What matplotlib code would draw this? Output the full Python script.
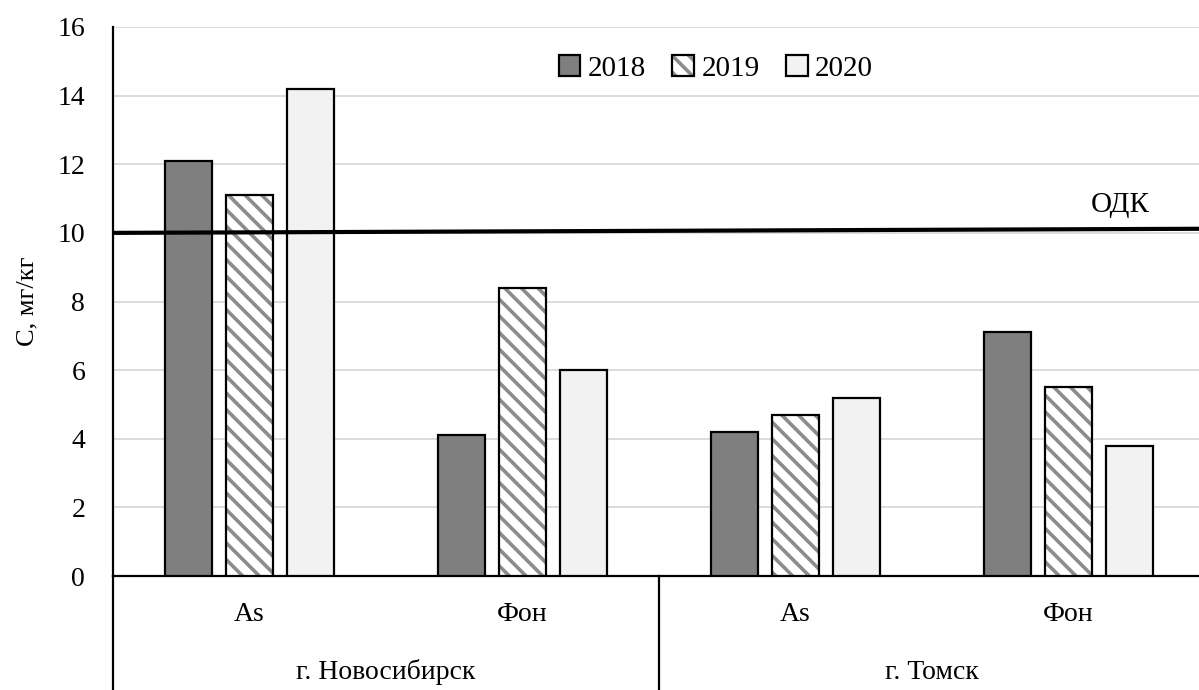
import matplotlib
matplotlib.use('Agg')
import matplotlib.pyplot as plt
import matplotlib.transforms as mtransforms
from matplotlib.patches import Patch
from matplotlib.legend_handler import HandlerTuple
import numpy as np

plt.rcParams['font.family'] = ['Liberation Serif', 'DejaVu Serif']
plt.rcParams['hatch.linewidth'] = 2.6

# data
categories = ['As', 'Фон', 'As', 'Фон']
cities = ['г. Новосибирск', 'г. Томск']
years = ['2018', '2019', '2020']
val_2018 = [12.1, 4.1, 4.2, 7.1]
val_2019 = [11.1, 8.4, 4.7, 5.5]
val_2020 = [14.2, 6.0, 5.2, 3.8]
odk_x = [-0.5, 3.5]
odk_y = [10.0, 10.12]
y_ticks = [0, 2, 4, 6, 8, 10, 12, 14, 16]

fig = plt.figure(figsize=(11.99, 6.9), dpi=100)
ax = fig.add_axes([113/1199, 1 - 576/690, 1092/1199, 549/690])

x = np.arange(len(categories))
step = 0.225
width = 0.172
fs = 20
hatch = '\\\\'

ax.bar(x - step, val_2018, width, facecolor='#7f7f7f', edgecolor='black',
       linewidth=1.6, zorder=3)
# hatched bars: gray stripes first, black outline on top
ax.bar(x, val_2019, width, facecolor='white', edgecolor='#8c8c8c', hatch=hatch,
       linewidth=0, zorder=3)
ax.bar(x, val_2019, width, fill=False, edgecolor='black', linewidth=1.6, zorder=3)
ax.bar(x + step, val_2020, width, facecolor='#f2f2f2', edgecolor='black',
       linewidth=1.6, zorder=3)

ax.plot(odk_x, odk_y, color='black', linewidth=3, zorder=4)
ax.text(3.19, 10.8, 'ОДК', fontsize=fs + 1, ha='center', va='center')

ax.set_xlim(-0.5, 3.5)
ax.set_ylim(0, 16)
ax.set_yticks(y_ticks)
ax.tick_params(axis='y', length=0, pad=20, labelsize=fs)
ax.set_xticks([])
ax.grid(axis='y', color='#d9d9d9', linewidth=1.3, zorder=0)
ax.set_axisbelow(True)
for s in ['top', 'right']:
  ax.spines[s].set_visible(False)
ax.spines['left'].set_linewidth(1.6)
ax.spines['bottom'].set_linewidth(1.6)
ax.set_ylabel('С, мг/кг', fontsize=fs - 1, labelpad=14)

# lower category table
trans = mtransforms.blended_transform_factory(ax.transData, ax.transAxes)
ax.plot([-0.5, -0.5], [0, -0.3], color='black', linewidth=1.6, transform=trans, clip_on=False)
ax.plot([1.5, 1.5], [0, -0.3], color='black', linewidth=1.6, transform=trans, clip_on=False)
for xi, c in zip(x, categories):
  ax.text(xi, -0.071, c, fontsize=fs, ha='center', va='center', transform=trans)
for j, c in enumerate(cities):
  ax.text(0.5 + 2*j, -0.175, c, fontsize=fs, ha='center', va='center', transform=trans)

# legend
h2019 = (Patch(facecolor='white', edgecolor='#8c8c8c', linewidth=0, hatch=hatch),
         Patch(fill=False, edgecolor='black', linewidth=1.6))
handles = [Patch(facecolor='#7f7f7f', edgecolor='black', linewidth=1.6),
           h2019,
           Patch(facecolor='#f2f2f2', edgecolor='black', linewidth=1.6)]
ax.legend(handles, years, loc='center', bbox_to_anchor=(0.552, 0.925), ncol=3,
          frameon=False, fontsize=fs + 1, handlelength=0.75, handleheight=0.75,
          handletextpad=0.25, columnspacing=0.9,
          handler_map={tuple: HandlerTuple(ndivide=1, pad=0)})

fig.savefig('out.png', dpi=100)
